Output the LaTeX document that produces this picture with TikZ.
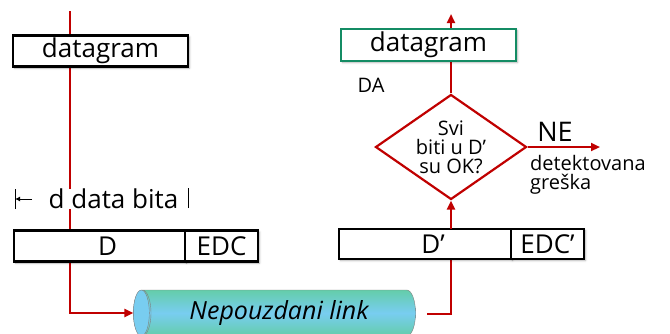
\documentclass[tikz,border=0pt]{standalone}
\usepackage{fontspec}
\setmainfont{Open Sans}
\usetikzlibrary{arrows.meta,positioning,shapes.geometric,shadows.blur,backgrounds}
\definecolor{linkred}{RGB}{192,0,0}
\definecolor{okgreen}{RGB}{20,140,100}
\definecolor{pipegreen}{RGB}{100,205,170}
\definecolor{pipeblue}{RGB}{120,205,240}

\begin{document}
\begin{tikzpicture}[x=1pt,y=-1pt,
  box/.style={draw=black,line width=2.2pt,fill=white,outer sep=0pt,inner sep=0pt,
              minimum height=31pt,font=\fontsize{26}{28}\selectfont,
              blur shadow={shadow xshift=1.5pt,shadow yshift=-1.5pt,shadow opacity=30,shadow blur steps=5}},
  dia/.style={diamond,draw=linkred,line width=2.2pt,fill=white,inner sep=-8pt,
              minimum width=151pt,minimum height=105pt,align=center,
              font=\fontsize{20}{19}\selectfont},
  pipe/.style={cylinder,shape border rotate=180,aspect=0.7,draw=gray,inner sep=0pt,
               minimum width=46pt,minimum height=282pt,
               top color=pipegreen,bottom color=pipegreen,middle color=pipeblue,
               font=\fontsize{25}{28}\selectfont\itshape},
  redarr/.style={-{Triangle[length=9pt,width=8pt]},linkred,line width=2.2pt},
  redln/.style={linkred,line width=2.2pt},
  txt/.style={inner sep=0pt,align=left}
]
  \useasboundingbox (0,0) rectangle (670,333);

  % sender
  \node[box,minimum width=175pt] (dgL) at (100.5,51) {datagram};
  \node[txt,fill=white,font=\fontsize{26}{28}\selectfont] (bita) at (113.5,199) {d data bita};
  \node[box,minimum width=171pt] (dL) at (99.5,246) {\hspace{16pt}D};
  \node[box,minimum width=73pt,right=0pt of dL] (edcL) {EDC};

  % link
  \node[pipe] (link) at (279,313) {Nepouzdani link};
  \fill[pipeblue,draw=gray] ([xshift=8pt]link.west) ellipse [x radius=8,y radius=23];

  % receiver
  \node[box,minimum width=172pt,minimum height=30pt] (dR) at (425,244) {\hspace{16pt}D'};
  \node[box,minimum width=73pt,minimum height=30pt,right=0pt of dR] (edcR) {EDC'};
  \node[dia] (chk) at (451,147) {Svi\\biti u D'\\su OK?};
  \node[box,draw=okgreen,minimum width=175pt,minimum height=32pt] (dgR) at (428.5,45) {datagram};

  \node[txt,font=\fontsize{20}{24}\selectfont] (yes) at (371,85) {DA};
  \node[txt,font=\fontsize{27}{30}\selectfont] (no) at (555,132) {NE};
  \node[txt,anchor=north west,font=\fontsize{20}{19}\selectfont] (err) at (530,155) {detektovana\\greška};

  \coordinate (src) at (70,11);
  \coordinate (linkout) at (427,314);
  \coordinate (okout) at (451,14);
  \coordinate (noout) at (600,147);
  \coordinate (barL) at (15,199);
  \coordinate (barR) at (188,198);

  \begin{scope}[on background layer]
    \draw[redarr] (src) -- (src |- link.west) -- (link.west);
    \draw[redln] (linkout) -- (linkout -| chk) -- (chk |- dR.south);
    \draw[redarr] (chk.north) -- (okout);
  \end{scope}
  \draw[redarr] (chk |- dR.north) -- (chk.south);
  \draw[redarr] (chk.east) -- (noout);

  % width of D
  \draw[line width=0.8pt] ([yshift=-10pt]barL) -- ([yshift=10pt]barL);
  \draw[line width=0.8pt] ([yshift=-10pt]barR) -- ([yshift=10pt]barR);
  \draw[-{Latex[length=5pt,width=5pt]},line width=1pt] ([xshift=17pt]barL) -- (barL);
\end{tikzpicture}
\end{document}
